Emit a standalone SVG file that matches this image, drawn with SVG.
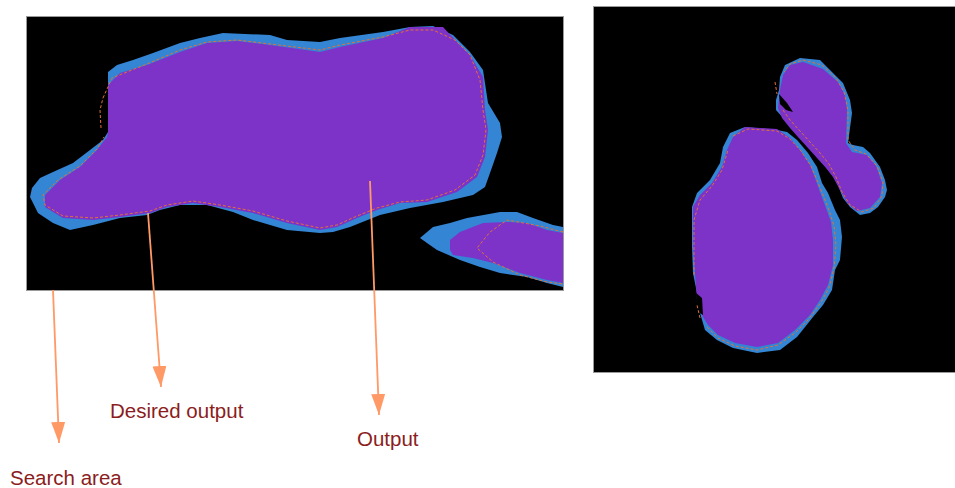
<svg xmlns="http://www.w3.org/2000/svg" width="955" height="488" viewBox="0 0 955 488">
<defs>
<style>
.frame{fill:#000;stroke:#9a9a9a;stroke-width:1}
.blue{fill:#3485d3;stroke:none}
.purple{fill:#7d32c8;stroke:none}
.hole{fill:#000;stroke:none}
.dash{fill:none;stroke:#e2703a;stroke-width:1;stroke-dasharray:3 2}
.conn{fill:none;stroke:#ff9966;stroke-width:1.8;marker-end:url(#arrow)}
.lbl{font-family:"Liberation Sans",Arial,sans-serif;font-size:20.5px;fill:#8b1d1d}
</style>
<marker id="arrow" markerUnits="userSpaceOnUse" markerWidth="22" markerHeight="15" refX="21" refY="7" orient="auto">
<path d="M0,0 L21,7 L0,14 z" fill="#ff9966"/>
</marker>
</defs>
<rect width="955" height="488" fill="#fff"/>

<g id="left-image">
<rect class="frame" x="26.5" y="16.5" width="537" height="274"/>
<path class="blue" d="M108,72 L117,65 L133,60 L153,53 L180,43 L200,38 L223,33 L270,35 L287,40 L320,42 L340,38 L383,32 L410,27 L433,26 L453,35 L470,52 L483,70 L488,103 L500,123 L502,137 L497,153 L490,173 L485,187 L473,195 L443,202 L410,208 L380,215 L350,227 L333,232 L320,233 L287,230 L253,220 L233,212 L207,205 L180,205 L160,210 L147,215 L120,218 L93,225 L70,230 L53,223 L38,213 L30,197 L32,188 L40,178 L53,172 L73,163 L90,150 L103,140 L108,132 L108,97 Z"/>
<path class="purple" d="M108,85 L120,73 L147,65 L180,52 L207,43 L237,41 L270,45 L320,52 L340,47 L383,38 L410,27 L443,27 L457,42 L470,55 L483,77 L485,110 L488,130 L485,157 L477,177 L457,192 L427,202 L400,203 L377,210 L357,218 L337,227 L320,230 L287,223 L253,213 L220,207 L193,203 L167,207 L150,213 L120,217 L93,220 L63,218 L45,207 L45,195 L60,180 L80,167 L97,150 L107,137 L108,132 Z"/>
<path class="dash" d="M103,98 L112,78 L147,64 L180,50 L207,42 L237,40 L270,44 L320,50 L340,45 L383,37 L410,30 L433,30 L455,40 L470,55 L480,80 L483,110 L486,130 L483,155 L475,175 L455,190 L427,200 L400,202 L377,208 L357,216 L337,225 L320,228 L287,221 L253,211 L220,205 L193,201 L167,205 L150,211 L120,215 L93,218 L63,216 L45,205 L43,195 L58,180 L80,166 L97,149 L104,137 M101,128 L100,110 L103,98"/>
<path class="blue" d="M420,238 L433,227 L450,223 L467,218 L500,212 L517,212 L533,218 L553,225 L563,227 L563,287 L547,283 L527,277 L500,273 L480,267 L460,260 L437,250 L427,243 Z"/>
<path class="purple" d="M450,240 L460,232 L483,223 L507,222 L527,223 L547,230 L563,233 L563,283 L547,280 L520,273 L493,263 L473,258 L453,255 L450,250 Z"/>
<path class="dash" d="M563,232 L540,226 L507,220 L490,232 L477,248 L493,262 L520,275 L547,282 L563,284"/>
</g>

<g id="right-image">
<rect class="frame" x="593.5" y="6.5" width="362" height="366"/>
<path class="blue" d="M745,127 L777,130 L787,132 L797,140 L808,153 L817,167 L822,183 L828,193 L835,210 L840,220 L842,237 L840,260 L835,270 L832,290 L823,305 L813,317 L797,337 L780,350 L757,353 L733,348 L717,340 L705,330 L700,313 L697,293 L693,273 L692,247 L692,207 L697,193 L710,180 L720,163 L723,147 L730,133 Z"/>
<path class="purple" d="M745,127 L777,129 L790,138 L800,150 L810,165 L815,178 L820,192 L826,208 L831,222 L833,240 L833,265 L828,285 L820,300 L810,315 L795,330 L778,343 L757,347 L735,343 L718,335 L708,325 L703,317 L697,300 L695,273 L693,247 L693,207 L700,195 L712,183 L722,167 L727,150 L733,137 Z"/>
<path class="hole" d="M696,293 L702,298 L703,315 L698,312 Z"/>
<path class="dash" d="M733,136 L748,129 L777,131 L790,139 L801,151 L811,166 L817,180 L823,195 L829,210 L834,226 L836,245 L834,268 L829,288 L820,304 L808,320 L795,333 L778,345 L757,350 L735,346 L718,338 L707,327 M700,318 L697,305 M694,275 L694,247 L694,220 L700,200 L712,186 L722,170 L728,150"/>
<path class="blue" d="M785,65 L800,58 L820,60 L833,73 L843,83 L850,100 L852,113 L848,143 L853,145 L863,147 L870,153 L880,167 L885,180 L887,190 L885,197 L878,207 L870,213 L860,215 L850,207 L843,198 L837,183 L830,167 L822,157 L813,147 L803,137 L793,127 L785,120 L776,110 L776,100 L779,90 L780,77 Z"/>
<path class="purple" d="M790,65 L803,62 L823,69 L838,82 L845,95 L847,110 L846,143 L852,152 L867,155 L876,166 L882,183 L880,197 L870,208 L857,211 L848,204 L840,190 L833,177 L826,168 L817,158 L808,148 L798,137 L790,128 L782,118 L778,108 L780,90 L783,75 Z"/>
<path class="hole" d="M779,94 L787,103 L793,112 L786,110 L780,104 Z"/>
<path class="dash" d="M775,82 L777,94 M783,110 L790,120 L800,131 L810,142 L820,153 L829,164 L836,177 L842,192 L850,205 L862,212 L874,208 L882,196 L883,182 L877,166 L866,154 L855,150 L848,140 L848,110 L844,92 L836,78 L822,65 L803,60 L790,64 L784,72"/>
</g>

<g id="connectors">
<line class="conn" x1="53" y1="290" x2="59" y2="443"/>
<line class="conn" x1="148" y1="213" x2="161" y2="387"/>
<line class="conn" x1="370" y1="181" x2="379" y2="415"/>
</g>

<g id="label-search-area"><text class="lbl" x="10" y="485">Search area</text></g>
<g id="label-desired-output"><text class="lbl" x="110" y="418">Desired output</text></g>
<g id="label-output"><text class="lbl" x="357" y="446">Output</text></g>
</svg>
